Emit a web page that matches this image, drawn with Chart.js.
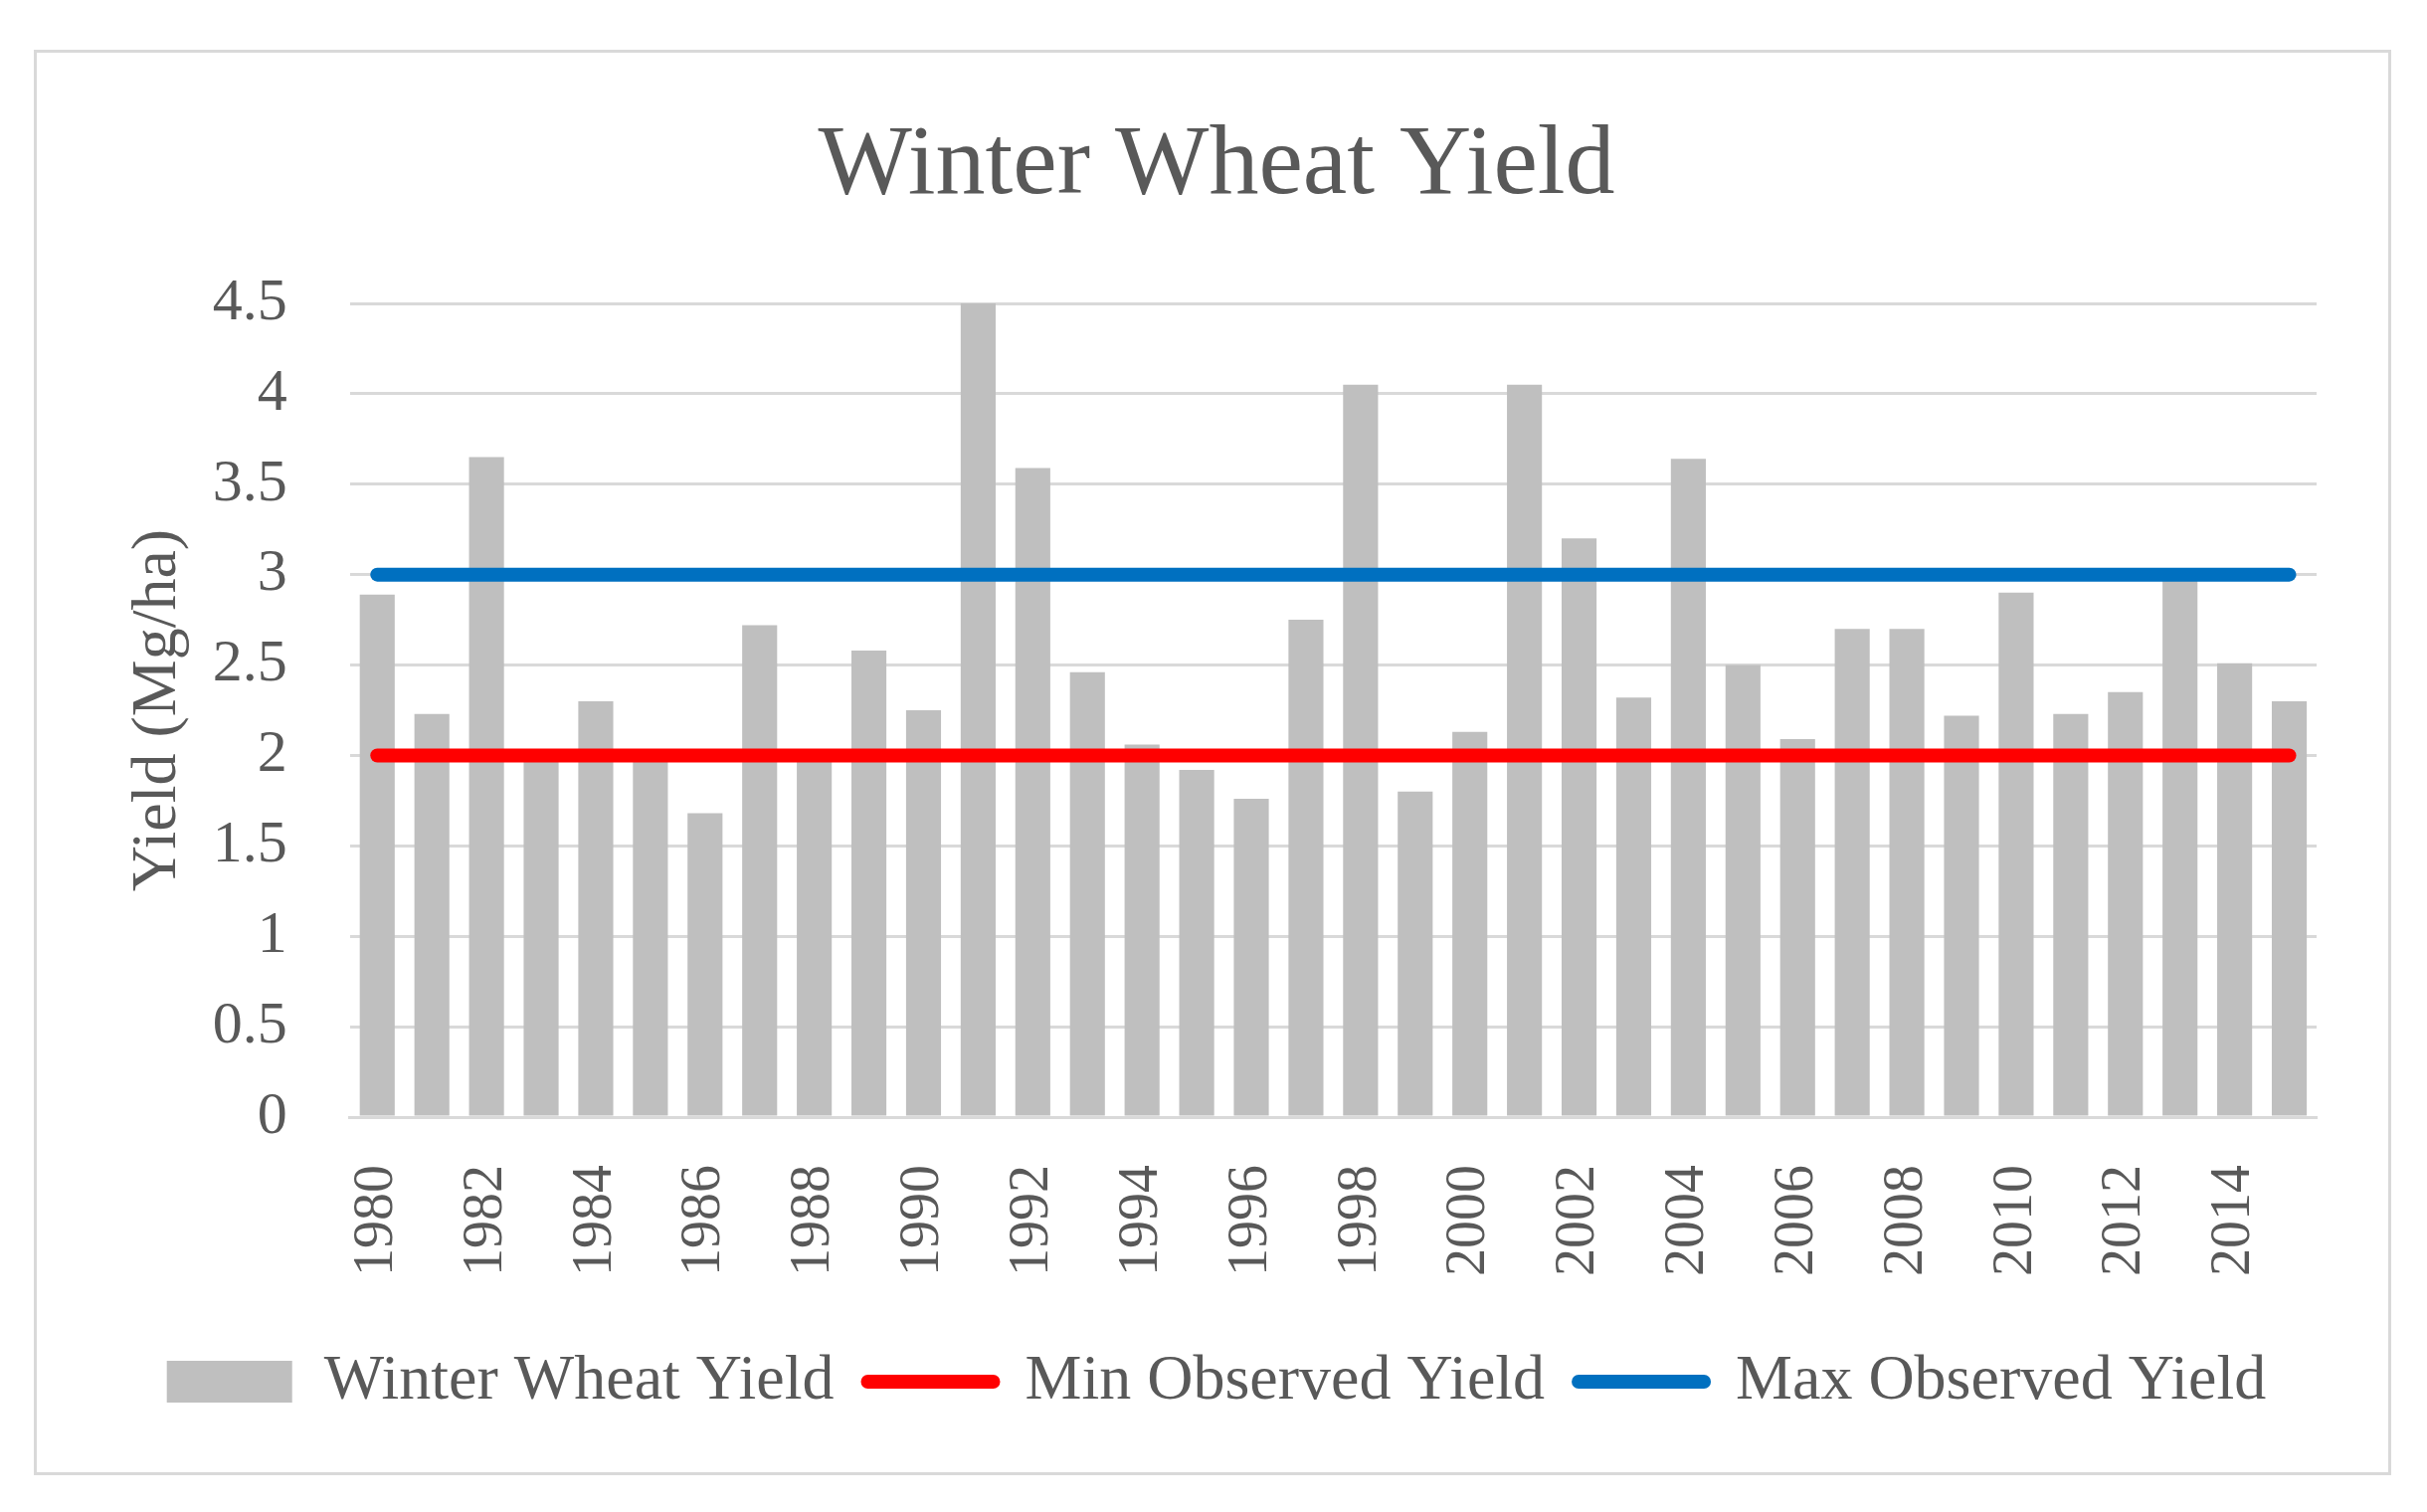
<!DOCTYPE html>
<html>
<head>
<meta charset="utf-8">
<script src="https://cdn.jsdelivr.net/npm/chart.js@4"></script>
<style>
  html, body { margin: 0; padding: 0; background: #fff; }
  #frame {
    position: absolute; left: 34px; top: 50px;
    width: 2364px; height: 1427px;
    border: 3px solid #d9d9d9; background: #fff;
  }
</style>
</head>
<body>
<div id="frame"><canvas id="wheatChart"></canvas></div>
<script>
const years = ['1980','1981','1982','1983','1984','1985','1986','1987','1988','1989',
  '1990','1991','1992','1993','1994','1995','1996','1997','1998','1999',
  '2000','2001','2002','2003','2004','2005','2006','2007','2008','2009',
  '2010','2011','2012','2013','2014','2015'];

const wheatYield = [2.89, 2.23, 3.65, 1.98, 2.30, 1.98, 1.68, 2.72, 1.98, 2.58,
  2.25, 4.50, 3.59, 2.46, 2.06, 1.92, 1.76, 2.75, 4.05, 1.80,
  2.13, 4.05, 3.20, 2.32, 3.64, 2.50, 2.09, 2.70, 2.70, 2.22,
  2.90, 2.23, 2.35, 2.97, 2.51, 2.30];

const minObserved = [2, 2, 2, 2, 2, 2, 2, 2, 2, 2, 2, 2, 2, 2, 2, 2, 2, 2,
  2, 2, 2, 2, 2, 2, 2, 2, 2, 2, 2, 2, 2, 2, 2, 2, 2, 2];

const maxObserved = [3, 3, 3, 3, 3, 3, 3, 3, 3, 3, 3, 3, 3, 3, 3, 3, 3, 3,
  3, 3, 3, 3, 3, 3, 3, 3, 3, 3, 3, 3, 3, 3, 3, 3, 3, 3];

const yTicks = [0, 0.5, 1, 1.5, 2, 2.5, 3, 3.5, 4, 4.5];

const textGray = '#595959';
const gridGray = '#d9d9d9';
const serif = '"Liberation Serif", "Times New Roman", serif';

(function () {
  const el = document.getElementById('wheatChart');
  if (!el) return;

  new Chart(el.getContext('2d'), {
    data: {
      labels: years,
      datasets: [
        {
          type: 'bar',
          label: 'Winter Wheat Yield',
          data: wheatYield,
          backgroundColor: '#bfbfbf',
          borderWidth: 0,
          barPercentage: 0.64,
          categoryPercentage: 1,
          order: 2
        },
        {
          type: 'line',
          label: 'Min Observed Yield',
          data: minObserved,
          borderColor: '#ff0000',
          backgroundColor: '#ff0000',
          borderWidth: 14,
          borderCapStyle: 'round',
          pointRadius: 0,
          fill: false,
          order: 1
        },
        {
          type: 'line',
          label: 'Max Observed Yield',
          data: maxObserved,
          borderColor: '#0070c0',
          backgroundColor: '#0070c0',
          borderWidth: 14,
          borderCapStyle: 'round',
          pointRadius: 0,
          fill: false,
          order: 1
        }
      ]
    },
    options: {
      responsive: true,
      maintainAspectRatio: false,
      animation: false,
      layout: {
        padding: { left: 80, right: 72, top: 0, bottom: 49 }
      },
      scales: {
        x: {
          grid: { display: false, drawTicks: false, tickLength: 0 },
          border: { display: true, color: gridGray, width: 3 },
          ticks: {
            autoSkip: false,
            minRotation: 90,
            maxRotation: 90,
            padding: 48,
            color: textGray,
            font: { family: serif, size: 56 },
            callback: function (value, index) {
              return index % 2 === 0 ? this.getLabelForValue(value) : '';
            }
          },
          afterFit: function (axis) {
            axis.height -= 8;
            axis.paddingLeft = 0;
            axis.paddingRight = 0;
          }
        },
        y: {
          min: 0,
          max: 4.5,
          grid: { color: gridGray, lineWidth: 3, drawTicks: false, tickLength: 0 },
          border: { display: false },
          afterBuildTicks: function (axis) {
            axis.ticks = yTicks.map(v => ({ value: v }));
          },
          afterFit: function (axis) {
            axis.width -= 63;
          },
          ticks: {
            padding: 63,
            color: textGray,
            font: { family: serif, size: 60 },
            callback: function (value) {
              return String(value);
            }
          },
          title: {
            display: true,
            text: 'Yield (Mg/ha)',
            color: textGray,
            font: { family: serif, size: 64 },
            padding: { top: 4, bottom: 16 }
          }
        }
      },
      plugins: {
        title: {
          display: true,
          text: 'Winter Wheat Yield',
          color: textGray,
          font: { family: serif, size: 100, weight: 'normal' },
          padding: { top: 55, bottom: 77 }
        },
        legend: {
          position: 'bottom',
          labels: {
            usePointStyle: true,
            pointStyleWidth: 126,
            boxHeight: 42,
            padding: 34,
            color: textGray,
            font: { family: serif, size: 64 },
            generateLabels: function (chart) {
              return chart.data.datasets.map((ds, i) => {
                const isBar = ds.type === 'bar';
                return {
                  text: ds.label,
                  datasetIndex: i,
                  fontColor: textGray,
                  pointStyle: isBar ? 'rect' : 'line',
                  fillStyle: isBar ? ds.backgroundColor : ds.borderColor,
                  strokeStyle: isBar ? ds.backgroundColor : ds.borderColor,
                  lineWidth: isBar ? 0 : 14,
                  lineCap: 'round',
                  hidden: false
                };
              });
            }
          }
        },
        tooltip: { enabled: false }
      }
    }
  });
})();
</script>
</body>
</html>
